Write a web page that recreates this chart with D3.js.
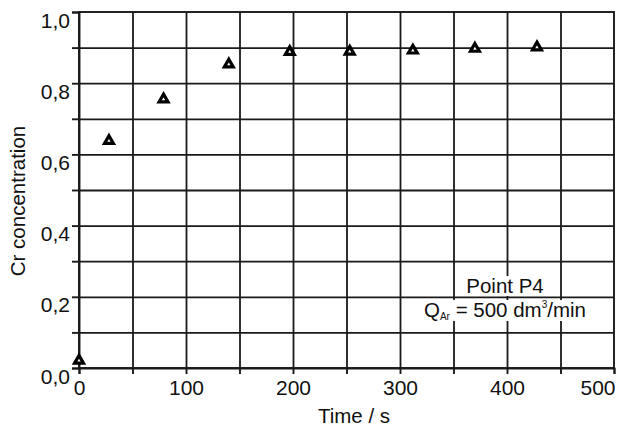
<!DOCTYPE html>
<html>
<head>
<meta charset="utf-8">
<script src="https://cdn.jsdelivr.net/npm/d3@7"></script>
<style>
  body { margin: 0; background: #fff; }
  svg text { font-family: "Liberation Sans", Arial, sans-serif; fill: #111; }
  .grid line { stroke: #1a1a1a; stroke-width: 1.8px; }
  .grid path { stroke-width: 0; }
  .axis path, .axis line { stroke: #1a1a1a; stroke-width: 1.9px; }
</style>
</head>
<body>
<div id="container"></div>
<script>
// data
var time_s = [0, 28, 79, 140, 197, 253, 312, 370, 428];
var cr_conc = [0.021, 0.638, 0.755, 0.853, 0.888, 0.889, 0.892, 0.897, 0.901];
var x_ticks = [0, 100, 200, 300, 400, 500];
var y_ticks = [0, 0.2, 0.4, 0.6, 0.8, 1.0];

var margin = {top: 12, right: 12, bottom: 60, left: 79};
var width = 626 - margin.left - margin.right;
var height = 368 - margin.top;

var svg = d3.select("#container").append("svg")
  .attr("width", 626)
  .attr("height", 428);

var g = svg.append("g")
  .attr("transform", "translate(" + margin.left + "," + margin.top + ")");

var x = d3.scaleLinear().domain([0, 500]).range([0, width]);
var y = d3.scaleLinear().domain([0, 1]).range([height, 0]);

// grid every 50 s / 0.1
g.append("g")
  .attr("class", "grid")
  .call(d3.axisBottom(x).tickValues(d3.range(50, 500, 50)).tickSize(height).tickFormat(""));
g.append("g")
  .attr("class", "grid")
  .call(d3.axisRight(y).tickValues(d3.range(1, 10).map(function(d) { return d / 10; })).tickSize(width).tickFormat(""));

// frame
g.append("rect")
  .attr("width", width)
  .attr("height", height)
  .attr("fill", "none")
  .attr("stroke", "#1a1a1a")
  .attr("stroke-width", 1.9);

// axes
var xAxis = g.append("g")
  .attr("class", "axis")
  .attr("transform", "translate(0," + height + ")")
  .call(d3.axisBottom(x).tickValues(d3.range(0, 550, 50)).tickSize(6)
    .tickFormat(function(d) { return x_ticks.indexOf(d) >= 0 ? d : ""; }));
xAxis.selectAll("text")
  .attr("font-size", "21px")
  .attr("y", 27)
  .attr("dy", 0)
  .attr("text-anchor", function(d) { return d === 500 ? "end" : "middle"; })
  .attr("x", function(d) { return d === 500 ? 1 : 0; });

var yAxis = g.append("g")
  .attr("class", "axis")
  .call(d3.axisLeft(y).tickValues(d3.range(0, 11).map(function(d) { return d / 10; })).tickSize(7).tickPadding(2)
    .tickFormat(function(d) {
      var hit = y_ticks.some(function(t) { return Math.abs(t - d) < 1e-9; });
      return hit ? d3.format(".1f")(d).replace(".", ",") : "";
    }));
yAxis.selectAll("text").attr("font-size", "21px").attr("dy", "0.72em");

// axis titles
svg.append("text")
  .attr("x", 354)
  .attr("y", 423)
  .attr("text-anchor", "middle")
  .attr("font-size", "20.5px")
  .text("Time / s");

svg.append("text")
  .attr("transform", "translate(25,201) rotate(-90)")
  .attr("text-anchor", "middle")
  .attr("font-size", "20.5px")
  .text("Cr concentration");

// annotation with white boxes behind each line
function label(yPos, build) {
  var t = svg.append("text")
    .attr("x", 505)
    .attr("y", yPos)
    .attr("text-anchor", "middle")
    .attr("font-size", "20.5px");
  build(t);
  var bb = t.node().getBBox();
  svg.insert("rect", function() { return t.node(); })
    .attr("x", bb.x - 1)
    .attr("y", bb.y + 2)
    .attr("width", bb.width + 2)
    .attr("height", bb.height - 3)
    .attr("fill", "#fff");
}
label(293, function(t) { t.text("Point P4"); });
label(317, function(t) {
  t.append("tspan").text("Q");
  t.append("tspan").attr("font-size", "10px").attr("dy", 3).text("Ar");
  t.append("tspan").attr("dy", -3).text(" = 500 dm");
  t.append("tspan").attr("font-size", "10px").attr("dy", -9).text("3");
  t.append("tspan").attr("dy", 9).text("/min");
});

// points: open triangles with heavy outline
var tri = d3.symbol().type(d3.symbolTriangle).size(34);
g.selectAll(".pt")
  .data(time_s)
  .enter().append("path")
  .attr("class", "pt")
  .attr("d", tri)
  .attr("transform", function(d, i) { return "translate(" + x(d) + "," + y(cr_conc[i]) + ")"; })
  .attr("fill", "#fff")
  .attr("stroke", "#000")
  .attr("stroke-width", 3.2)
  .attr("stroke-linejoin", "miter");
</script>
</body>
</html>
